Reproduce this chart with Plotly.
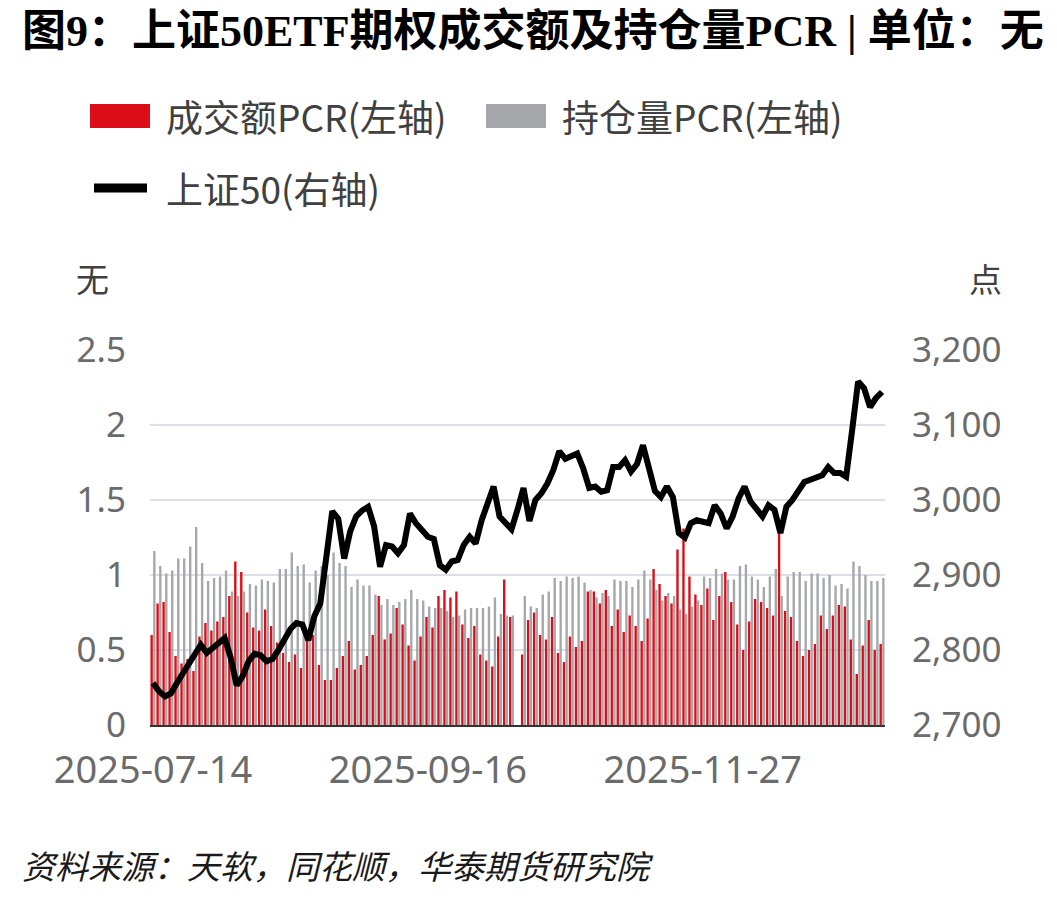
import pandas as pd
import plotly.graph_objects as go

# ---------------- data ----------------
holidays = ["2025-10-01", "2025-10-02", "2025-10-03", "2025-10-06", "2025-10-07",
            "2025-10-08", "2026-01-01", "2026-01-02"]
dates = [d.strftime("%Y-%m-%d") for d in pd.bdate_range("2025-07-14", "2026-01-12")
         if d.strftime("%Y-%m-%d") not in holidays]

turnover_pcr = [0.60, 0.81, 0.82, 0.62, 0.46, 0.41, 0.44, 0.36, 0.59, 0.68,
                0.63, 0.69, 0.72, 0.86, 1.09, 1.02, 0.75, 0.65, 0.63, 0.77,
                0.66, 0.55, 0.48, 0.42, 0.47, 0.38, 0.57, 0.60, 0.40, 0.30,
                0.30, 0.38, 0.46, 0.56, 0.37, 0.40, 0.46, 0.60, 0.86, 0.57,
                0.61, 0.78, 0.67, 0.53, 0.43, 0.59, 0.72, 0.65, 0.86, 0.90,
                0.85, 0.89, 0.67, 0.58, 0.66, 0.47, 0.43, 0.39, 0.59, 0.97,
                0.72, None, 0.47, 0.70, 0.75, 0.60, 0.57, 0.72, 0.48, 0.42,
                0.59, 0.52, 0.56, 0.89, 0.89, 0.81, 0.90, 0.66, 0.77, 0.62,
                0.73, 0.66, 0.56, 0.71, 1.04, 0.94, 0.86, 0.81, 1.17, 1.31,
                0.99, 0.87, 0.80, 0.91, 0.70, 0.86, 1.02, 0.82, 0.67, 0.50,
                0.69, 0.84, 0.82, 0.78, 0.73, 1.28, 0.76, 0.72, 0.56, 0.46,
                0.50, 0.54, 0.73, 0.64, 0.73, 0.80, 0.79, 0.57, 0.34, 0.53,
                0.70, 0.50, 0.54]

oi_pcr = [1.16, 1.06, 1.01, 1.03, 1.11, 1.11, 1.19, 1.32, 1.08, 0.96,
          0.98, 0.99, 1.03, 0.89, 0.86, 0.89, 0.94, 0.93, 0.97, 0.96,
          0.95, 1.04, 1.04, 1.15, 1.06, 1.07, 0.95, 1.03, 1.06, 1.00,
          1.15, 1.08, 1.06, 0.92, 0.97, 0.93, 0.93, 0.87, 0.80, 0.84,
          0.80, 0.82, 0.84, 0.90, 0.84, 0.83, 0.79, 0.78, 0.78, 0.76,
          0.72, 0.73, 0.77, 0.78, 0.78, 0.78, 0.79, 0.85, 0.74, 0.73,
          0.73, None, 0.86, 0.79, 0.78, 0.87, 0.89, 0.98, 0.96, 0.99,
          0.98, 0.99, 0.95, 0.90, 0.85, 0.88, 0.86, 0.97, 0.96, 0.96,
          0.92, 0.97, 1.03, 0.97, 0.90, 0.83, 0.88, 0.86, 0.77, 0.74,
          0.79, 0.83, 0.99, 0.98, 1.04, 1.01, 0.97, 0.97, 1.06, 1.07,
          0.99, 0.97, 0.92, 0.99, 1.04, 0.86, 0.99, 1.02, 1.02, 0.96,
          1.01, 1.01, 0.98, 1.00, 0.93, 0.94, 0.91, 1.09, 1.06, 1.00,
          0.96, 0.96, 0.98]

sse50 = [2756, 2745, 2738, 2742, 2756, 2768, 2782, 2795, 2807, 2796,
         2802, 2810, 2816, 2790, 2753, 2765, 2785, 2795, 2793, 2785,
         2788, 2800, 2815, 2828, 2836, 2834, 2813, 2845, 2862, 2925,
         2985, 2975, 2922, 2958, 2978, 2986, 2991, 2965, 2911, 2940,
         2938, 2929, 2940, 2982, 2969, 2960, 2951, 2948, 2913, 2907,
         2918, 2920, 2940, 2951, 2942, 2973, 2993, 3018, 2978, 2969,
         2961, 2987, 3016, 2972, 3000, 3009, 3022, 3040, 3065, 3055,
         3058, 3062, 3042, 3016, 3018, 3011, 3013, 3044, 3044, 3053,
         3038, 3048, 3073, 3040, 3012, 3004, 3018, 3004, 2956, 2950,
         2969, 2973, 2972, 2969, 2993, 2982, 2962, 2978, 3002, 3018,
         2998, 2987, 2978, 2993, 2987, 2956, 2991, 3000, 3014, 3024,
         3027, 3030, 3033, 3044, 3036, 3036, 3031, 3093, 3158, 3149,
         3124, 3136, 3144]

x_ticks = ["2025-07-14", "2025-09-16", "2025-11-27"]

# ---------------- layout helpers ----------------
W, H = 1057, 898
L, R, T, B = 150, 172, 350, 173
PW, PH = W - L - R, H - T - B


def px(x):
    return (x - L) / PW


def py(y):
    return (H - B - y) / PH


RED = "#dc0d17"
GRAY = "#a5a7aa"
CJK = "Noto Sans CJK SC"
TICK_FONT = dict(family="Noto Sans, " + CJK, size=35, color="#6b6b6b")
XTICK_FONT = dict(family="Noto Sans, " + CJK, size=38, color="#6b6b6b")

fig = go.Figure()
fig.add_trace(go.Bar(x=dates, y=turnover_pcr, name="成交额PCR(左轴)",
                     marker=dict(color=RED, line=dict(width=0))))
fig.add_trace(go.Bar(x=dates, y=oi_pcr, name="持仓量PCR(左轴)",
                     marker=dict(color=GRAY, line=dict(width=0))))
fig.add_trace(go.Scatter(x=dates, y=sse50, name="上证50(右轴)", yaxis="y2",
                         mode="lines", line=dict(color="#000000", width=6)))

shapes = [
    dict(type="rect", xref="paper", yref="paper", x0=px(90), x1=px(150),
         y0=py(128), y1=py(104), fillcolor=RED, line=dict(width=0)),
    dict(type="rect", xref="paper", yref="paper", x0=px(486), x1=px(546),
         y0=py(128), y1=py(104), fillcolor=GRAY, line=dict(width=0)),
    dict(type="line", xref="paper", yref="paper", x0=px(94), x1=px(147),
         y0=py(188), y1=py(188), line=dict(color="#000000", width=9)),
]

annotations = [
    dict(text="<b>图9：上证50ETF期权成交额及持仓量PCR | 单位：无</b>",
         xref="paper", yref="paper", x=px(20), y=py(31), xanchor="left",
         yanchor="middle", showarrow=False,
         font=dict(family="Liberation Serif, " + CJK, size=44, color="#000000")),
    dict(text="成交额PCR(左轴)", xref="paper", yref="paper", x=px(164), y=py(116),
         xanchor="left", yanchor="middle", showarrow=False,
         font=dict(family=CJK, size=37, color="#404040")),
    dict(text="持仓量PCR(左轴)", xref="paper", yref="paper", x=px(560), y=py(116),
         xanchor="left", yanchor="middle", showarrow=False,
         font=dict(family=CJK, size=37, color="#404040")),
    dict(text="上证50(右轴)", xref="paper", yref="paper", x=px(164), y=py(188),
         xanchor="left", yanchor="middle", showarrow=False,
         font=dict(family=CJK, size=37, color="#404040")),
    dict(text="无", xref="paper", yref="paper", x=px(92), y=py(278),
         xanchor="center", yanchor="middle", showarrow=False,
         font=dict(family=CJK, size=33, color="#404040")),
    dict(text="点", xref="paper", yref="paper", x=px(985), y=py(278),
         xanchor="center", yanchor="middle", showarrow=False,
         font=dict(family=CJK, size=33, color="#404040")),
    dict(text="<i>资料来源：天软，同花顺，华泰期货研究院</i>", xref="paper", yref="paper",
         x=px(20), y=py(865), xanchor="left", yanchor="middle", showarrow=False,
         font=dict(family=CJK, size=33, color="#1a1a1a")),
]

fig.update_layout(
    width=W, height=H,
    margin=dict(l=L, r=R, t=T, b=B, pad=0),
    paper_bgcolor="#ffffff", plot_bgcolor="#ffffff",
    barmode="group", bargap=0.1, bargroupgap=0.12,
    showlegend=False,
    shapes=shapes, annotations=annotations,
    xaxis=dict(type="category", range=[-0.5, len(dates) - 0.5],
               tickmode="array", tickvals=x_ticks, ticktext=x_ticks,
               showgrid=False, showline=True, linecolor="#333333", linewidth=2,
               ticks="", tickfont=XTICK_FONT, ticklabelstandoff=10, zeroline=False),
    yaxis=dict(range=[0, 2.5], dtick=0.5, tick0=0, showgrid=True,
               gridcolor="#dcdfe8", gridwidth=2, zeroline=False, showline=False,
               ticks="", tickfont=TICK_FONT, ticklabelstandoff=23),
    yaxis2=dict(range=[2700, 3200], dtick=100, tick0=2700, overlaying="y",
                side="right", showgrid=False, zeroline=False, showline=False,
                ticks="", tickformat=",d", tickfont=TICK_FONT,
                ticklabelstandoff=26),
)

fig.write_html("out.html")
